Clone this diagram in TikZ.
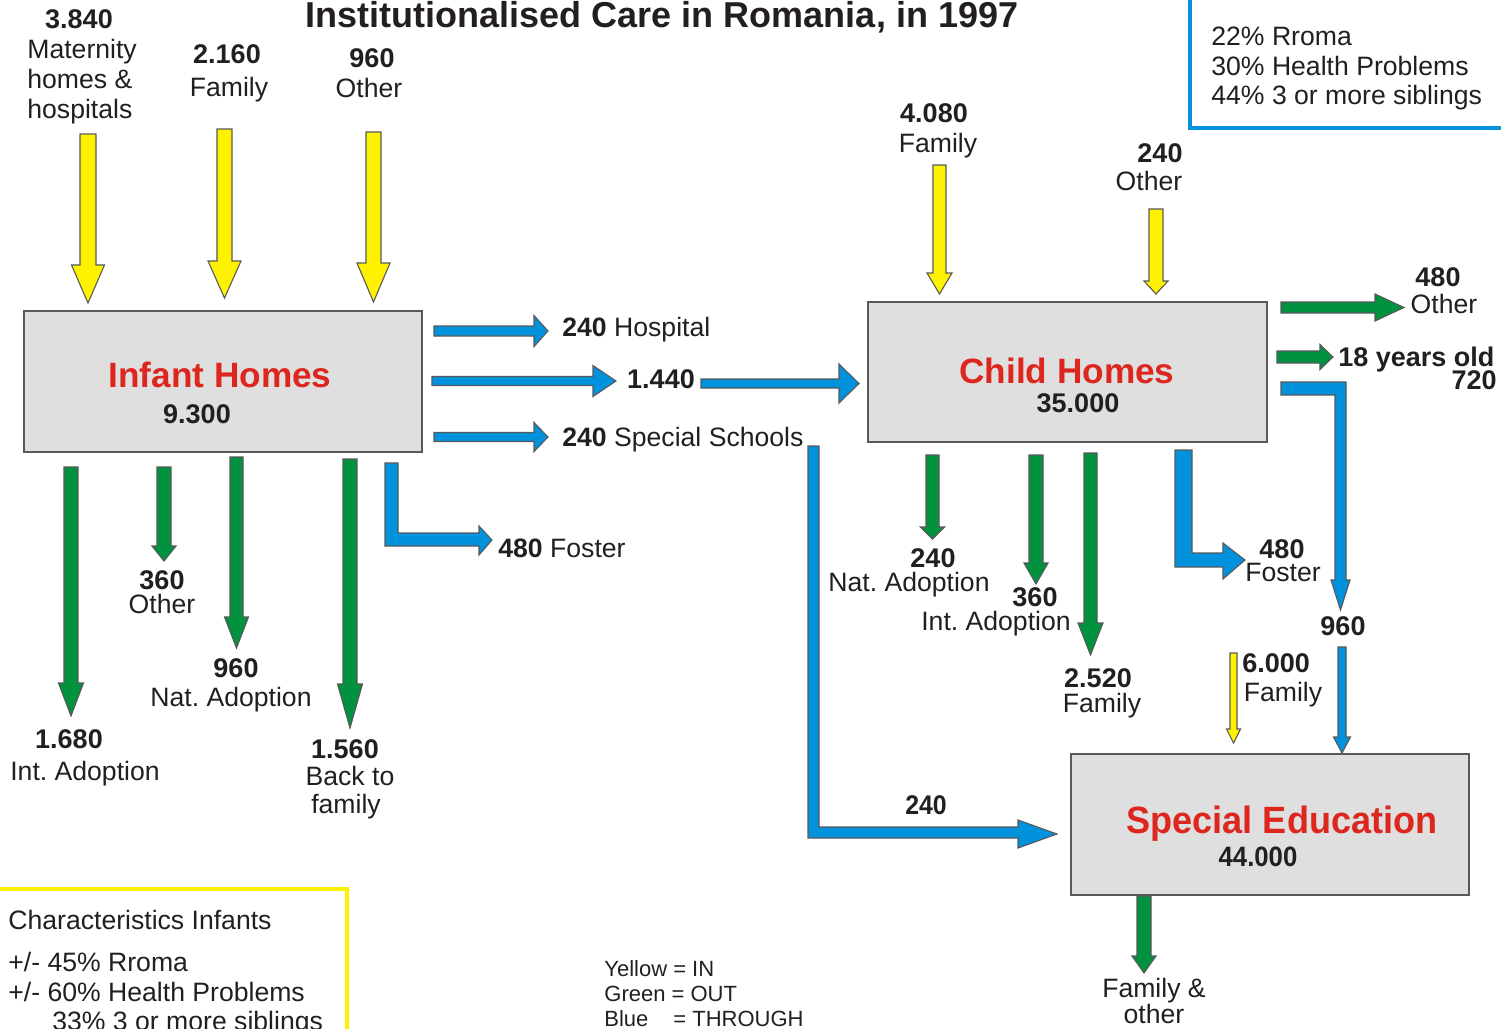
\documentclass[tikz,border=0pt]{standalone}
\usepackage{fontspec}
\setmainfont{Liberation Sans}
\usepackage{graphicx}
\frenchspacing
\definecolor{inyellow}{RGB}{255,242,0}
\definecolor{outgreen}{RGB}{0,146,63}
\definecolor{thrublue}{RGB}{0,146,221}
\definecolor{boxred}{RGB}{220,38,30}
\definecolor{boxgray}{RGB}{223,223,223}
\definecolor{txt}{RGB}{35,31,32}
\newcommand{\DArrow}[7]{%
  \filldraw[fill=#1, arrowline] ({#2-#5},#3) -- ({#2+#5},#3) -- ({#2+#5},{#4-#7}) -- ({#2+#6},{#4-#7}) -- (#2,#4) -- ({#2-#6},{#4-#7}) -- ({#2-#5},{#4-#7}) -- cycle;}
\newcommand{\RArrow}[7]{%
  \filldraw[fill=#1, arrowline] (#2,{#4-#5}) -- ({#3-#7},{#4-#5}) -- ({#3-#7},{#4-#6}) -- (#3,#4) -- ({#3-#7},{#4+#6}) -- ({#3-#7},{#4+#5}) -- (#2,{#4+#5}) -- cycle;}
\tikzset{
  arrowline/.style={draw=black!65, line width=0.55pt, line join=miter},
  homebox/.style={draw=black!65, line width=0.8pt, fill=boxgray},
  lbl/.style={inner sep=0pt, text=txt, font=\fontsize{13.3}{15}\selectfont, anchor=base},
  num/.style={lbl, font=\fontsize{13.5}{15}\selectfont\bfseries},
  boxtitle/.style={inner sep=0pt, anchor=base, text=boxred, font=\fontsize{17.6}{20}\selectfont\bfseries},
  legend/.style={inner sep=0pt, anchor=base west, text=txt, font=\fontsize{11}{13}\selectfont},
}
\begin{document}
\begin{tikzpicture}[x=0.5pt, y=-0.5pt]
\useasboundingbox (0,0) rectangle (1501,1029);
\fill[white] (0,0) rectangle (1501,1029);

% title
\node[lbl, font=\fontsize{18}{20}\selectfont\bfseries] (title) at (662,27) {Institutionalised Care in Romania, in 1997};

% top-right characteristics box
\draw[thrublue, line width=2pt] (1190,-10) -- (1190,128) -- (1510,128);
\node[lbl, anchor=base west] (c1) at (1211,45) {22\% Rroma};
\node[lbl, anchor=base west] (c2) at (1211,75) {30\% Health Problems};
\node[lbl, anchor=base west] (c3) at (1211,104) {44\% 3 or more siblings};

% boxes
\draw[homebox] (24,311) rectangle (422,452);
\coordinate (infant) at (223,381);
\node[boxtitle] (infantT) at (220,387) {Infant Homes};
\node[num] (infantN) at (197,423) {9.300};

\draw[homebox] (868,302) rectangle (1267,442);
\coordinate (child) at (1067,372);
\node[boxtitle] (childT) at (1067,383) {Child Homes};
\node[num] (childN) at (1078,412) {35.000};

\draw[homebox] (1071,754) rectangle (1469,895);
\coordinate (special) at (1270,824);
\node[boxtitle, font=\fontsize{19}{21}\selectfont\bfseries] (specialT) at (1282,833) {\scalebox{0.95}[1]{Special Education}};
\node[num, font=\fontsize{14}{16}\selectfont\bfseries] (specialN) at (1258,866) {\scalebox{0.92}[1]{44.000}};

% yellow IN arrows
\DArrow{inyellow}{88}{134}{303}{8}{16.5}{38}
\DArrow{inyellow}{224.5}{129}{298}{7.5}{16.5}{37}
\DArrow{inyellow}{373.5}{132}{302}{7.5}{16.5}{39}
\DArrow{inyellow}{939.5}{165}{294}{6.5}{12.5}{21}
\DArrow{inyellow}{1156}{209}{294}{7}{12}{13}
\DArrow{inyellow}{1233.5}{653}{743}{3.5}{7}{14}

% green OUT arrows
\DArrow{outgreen}{71}{467}{716}{7}{12.5}{33}
\DArrow{outgreen}{164}{467}{561}{7}{12}{15}
\DArrow{outgreen}{236.5}{457}{648}{6.5}{12}{31}
\DArrow{outgreen}{350}{459}{728}{7}{12.5}{44}
\DArrow{outgreen}{932.5}{455}{539}{6.5}{12}{12}
\DArrow{outgreen}{1036}{455}{584}{7}{12}{21}
\DArrow{outgreen}{1090.5}{453}{655}{6.5}{12.5}{32}
\DArrow{outgreen}{1144}{896}{973}{7}{12}{17}
\RArrow{outgreen}{1281}{1404}{307.5}{5.5}{13.5}{29}
\RArrow{outgreen}{1277}{1333}{357}{6}{12.5}{13}

% blue THROUGH arrows
\RArrow{thrublue}{434}{548}{331}{5}{15.5}{14}
\RArrow{thrublue}{432}{616}{381}{4.5}{15.5}{23}
\RArrow{thrublue}{701}{859}{383.5}{4.5}{19.5}{20}
\RArrow{thrublue}{434}{548}{437}{4.5}{14.5}{14}
\DArrow{thrublue}{1342}{647}{753}{4}{8.5}{16}
\filldraw[fill=thrublue, arrowline] (385,463) -- (398,463) -- (398,533) -- (479,533) -- (479,526) -- (492,540) -- (479,555) -- (479,546) -- (385,546) -- cycle;
\filldraw[fill=thrublue, arrowline] (808,446) -- (819,446) -- (819,827) -- (1018,827) -- (1018,820) -- (1057,834) -- (1018,848) -- (1018,838) -- (808,838) -- cycle;
\filldraw[fill=thrublue, arrowline] (1175,450) -- (1192,450) -- (1192,553) -- (1223,553) -- (1223,543) -- (1245,560) -- (1223,579) -- (1223,567) -- (1175,567) -- cycle;
\filldraw[fill=thrublue, arrowline] (1281,382) -- (1346,382) -- (1346,580) -- (1350,580) -- (1340.5,610) -- (1331,580) -- (1335,580) -- (1335,395) -- (1281,395) -- cycle;

% labels top-left
\node[num] (n3840) at (79,28) {3.840};
\node[lbl, anchor=base west] (l1a) at (27,58) {Maternity};
\node[lbl, anchor=base west] (l1b) at (27,88) {homes \&};
\node[lbl, anchor=base west] (l1c) at (27,118) {hospitals};
\node[num] (n2160) at (227,63) {2.160};
\node[lbl] (l2) at (229,96) {Family};
\node[num] (n960a) at (372,67) {960};
\node[lbl] (l3) at (369,97) {Other};

% labels right of infant homes
\node[lbl, anchor=base west] (hosp) at (562,336) {\textbf{240} Hospital};
\node[num] (n1440) at (661,388) {1.440};
\node[lbl, anchor=base west] (ss) at (562,446) {\textbf{240} Special Schools};
\node[lbl, anchor=base west] (fos1) at (498,557) {\textbf{480} Foster};

% labels below infant homes
\node[num] (n1680) at (69,748) {1.680};
\node[lbl] (l4) at (85,780) {Int. Adoption};
\node[num] (n360a) at (162,589) {360};
\node[lbl] (l5) at (162,613) {Other};
\node[num] (n960b) at (236,677) {960};
\node[lbl] (l6) at (231,706) {Nat. Adoption};
\node[num] (n1560) at (345,758) {1.560};
\node[lbl] (l7a) at (350,785) {Back to};
\node[lbl] (l7b) at (346,813) {family};

% labels above child homes
\node[num] (n4080) at (934,122) {4.080};
\node[lbl] (l8) at (938,152) {Family};
\node[num] (n240a) at (1160,162) {240};
\node[lbl] (l9) at (1149,190) {Other};

% labels right of child homes
\node[num] (n480a) at (1438,286) {480};
\node[lbl] (l10) at (1444,313) {Other};
\node[num, anchor=base west] (l11) at (1338,366) {18 years old};
\node[num, anchor=base east] (n720) at (1497,389) {720};
\node[num] (n960c) at (1343,635) {960};
\node[num] (n480b) at (1282,558) {480};
\node[lbl] (l12) at (1283,581) {Foster};
\node[num, anchor=base west] (n6000) at (1242,672) {6.000};
\node[lbl] (l13) at (1283,701) {Family};

% labels below child homes
\node[num] (n240b) at (933,567) {240};
\node[lbl] (l14) at (909,591) {Nat. Adoption};
\node[num] (n360b) at (1035,606) {360};
\node[lbl] (l15) at (996,630) {Int. Adoption};
\node[num] (n2520) at (1098,687) {2.520};
\node[lbl] (l16) at (1102,712) {Family};

% special education labels
\node[num] (n240c) at (926,814) {\scalebox{0.92}[1]{240}};
\node[lbl] (l17a) at (1154,997) {Family \&};
\node[lbl] (l17b) at (1154,1023) {other};

% characteristics infants box
\draw[inyellow, line width=2pt] (-10,889) -- (347,889) -- (347,1040);
\node[lbl, anchor=base west] (ci0) at (8,929) {Characteristics Infants};
\node[lbl, anchor=base west] (ci1) at (8,971) {+/- 45\% Rroma};
\node[lbl, anchor=base west] (ci2) at (8,1001) {+/- 60\% Health Problems};
\node[lbl, anchor=base west] (ci3) at (52,1030) {33\% 3 or more siblings};

% colour legend
\node[legend] (lg1) at (604,976) {Yellow = IN};
\node[legend] (lg2) at (604,1001) {Green = OUT};
\node[legend] (lg3) at (604,1026) {Blue};
\node[legend] (lg3b) at (673,1026) {= THROUGH};
\end{tikzpicture}
\end{document}
